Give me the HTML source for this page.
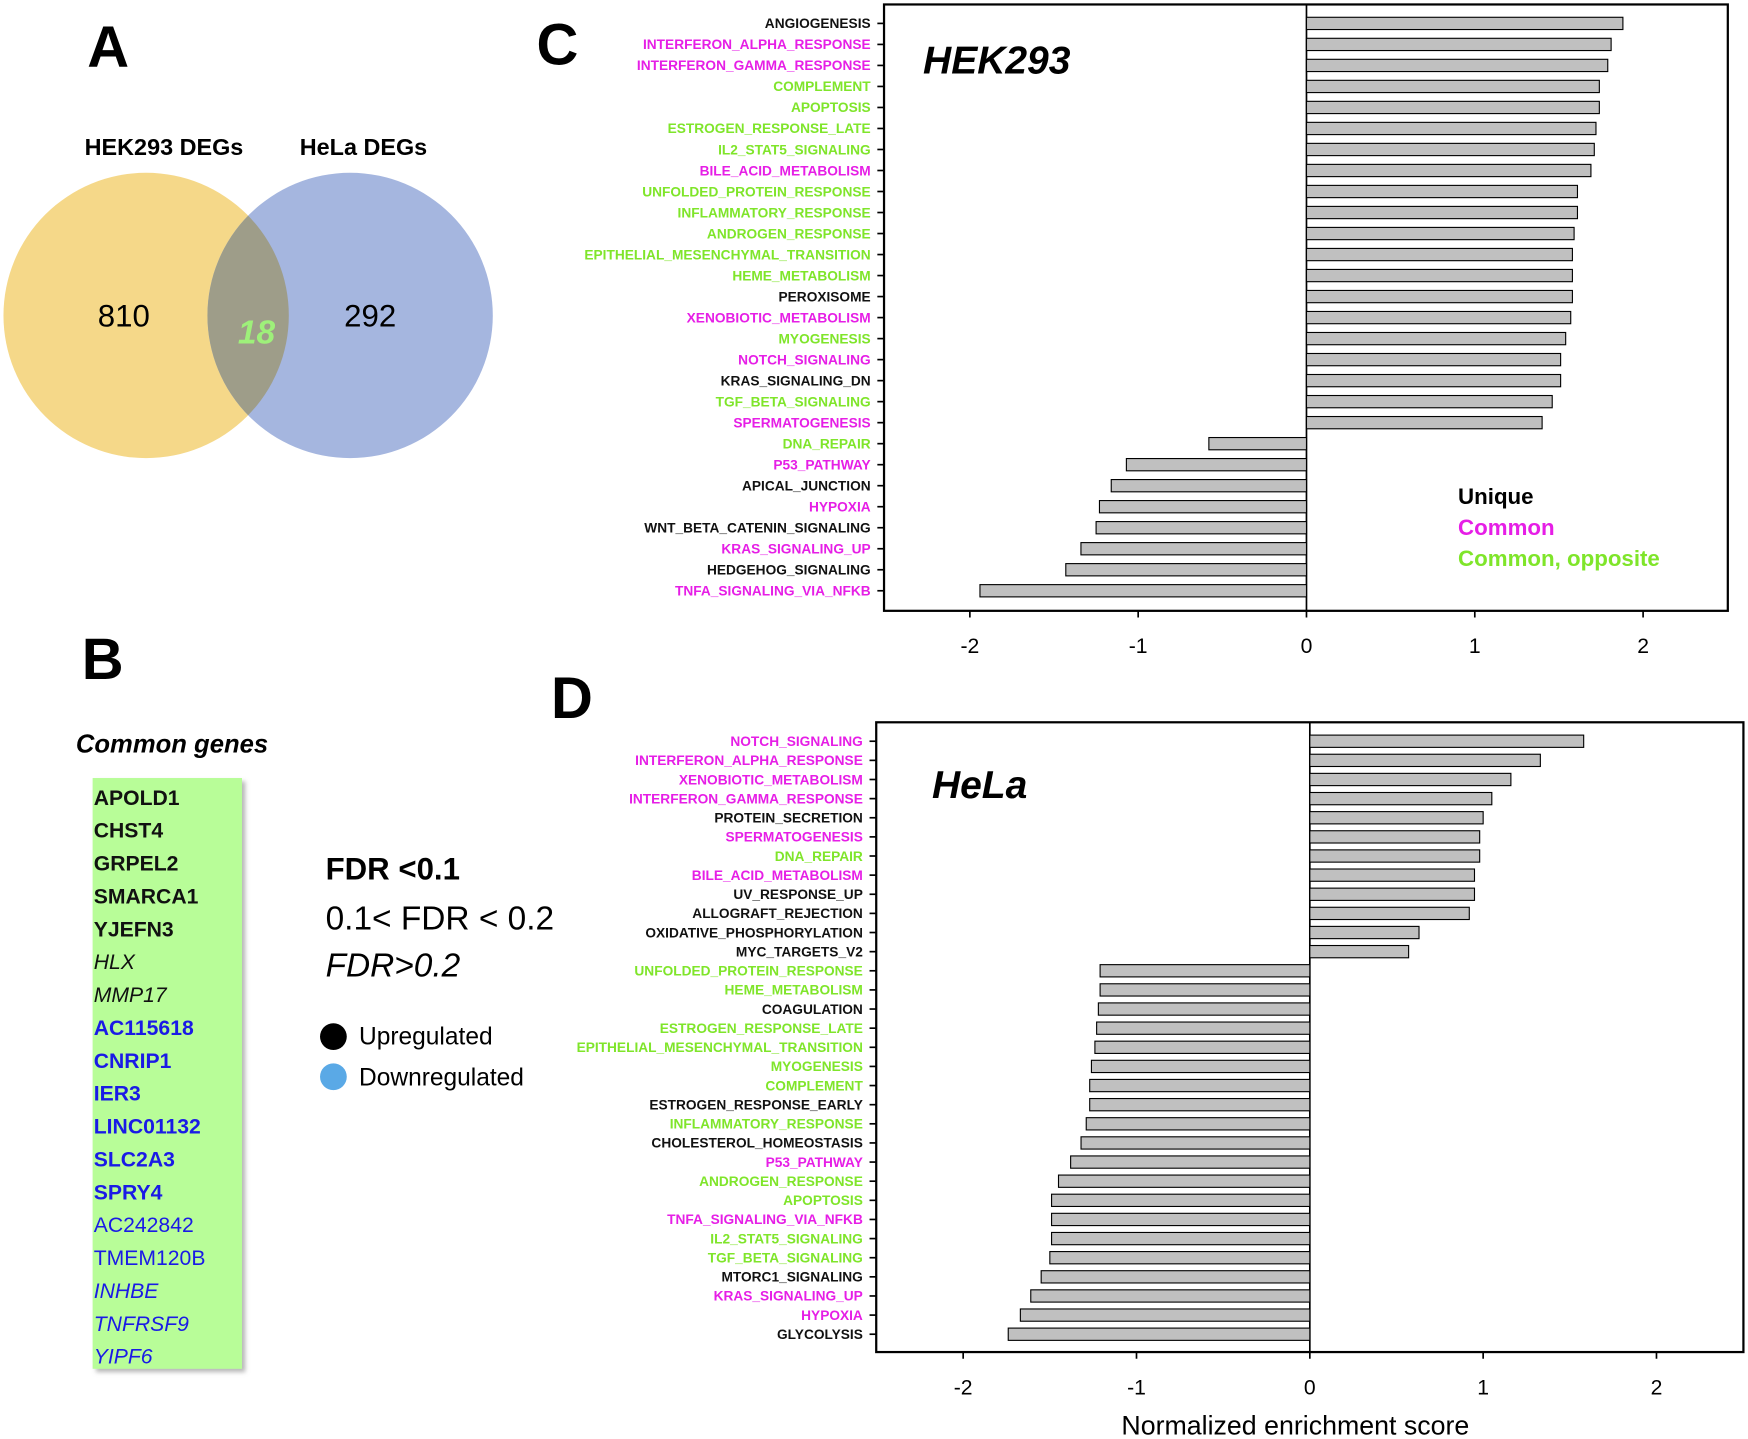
<!DOCTYPE html>
<html><head><meta charset="utf-8"><style>
html,body{margin:0;padding:0;background:#fff}
svg{display:block}
text{font-family:"Liberation Sans",sans-serif}
</style></head><body>
<svg id="fig" width="1748" height="1439" viewBox="0 0 1568 1291" xmlns="http://www.w3.org/2000/svg">
<defs>
<clipPath id="yc"><circle cx="131" cy="283" r="128"/></clipPath>
<filter id="sh" x="-10%" y="-10%" width="130%" height="130%"><feDropShadow dx="3" dy="3" stdDeviation="2" flood-color="#888" flood-opacity="0.6"/></filter>
</defs>
<g>
<text x="97" y="60" font-size="52" font-weight="bold" text-anchor="middle">A</text>
<text x="147" y="139" font-size="21" font-weight="bold" text-anchor="middle">HEK293 DEGs</text>
<text x="326" y="139" font-size="21" font-weight="bold" text-anchor="middle">HeLa DEGs</text>
<circle cx="131" cy="283" r="128" fill="#f5d889"/>
<circle cx="314" cy="283" r="128" fill="#a5b6df"/>
<circle cx="314" cy="283" r="128" fill="#9e9d89" clip-path="url(#yc)"/>
<text x="111" y="293" font-size="28" text-anchor="middle">810</text>
<text x="332" y="293" font-size="28" text-anchor="middle">292</text>
<text x="230" y="308" font-size="30" font-style="italic" font-weight="bold" fill="#9ef07a" text-anchor="middle">18</text>
</g>
<g>
<text x="92" y="609" font-size="52" font-weight="bold" text-anchor="middle">B</text>
<text x="68" y="675" font-size="23" font-style="italic" font-weight="bold">Common genes</text>
<rect x="83" y="698" width="134" height="530" fill="#b8fd98" filter="url(#sh)"/>
<g id="genes"></g>
<text x="292" y="789" font-size="28" font-weight="bold">FDR &lt;0.1</text>
<text x="292" y="834" font-size="30">0.1&lt; FDR &lt; 0.2</text>
<text x="292" y="876" font-size="30" font-style="italic">FDR&gt;0.2</text>
<circle cx="299" cy="930" r="12" fill="#000"/>
<text x="322" y="937" font-size="22">Upregulated</text>
<circle cx="299" cy="966" r="12" fill="#5aa9e6"/>
<text x="322" y="974" font-size="22">Downregulated</text>
</g>
<text x="500" y="58" font-size="52" font-weight="bold" text-anchor="middle">C</text>
<text x="513" y="644" font-size="52" font-weight="bold" text-anchor="middle">D</text>
<g id="chartC"></g>
<g id="chartD"></g>
<g>
<text x="1308" y="452" font-size="20" font-weight="bold">Unique</text>
<text x="1308" y="480" font-size="20" font-weight="bold" fill="#e61ee6">Common</text>
<text x="1308" y="508" font-size="20" font-weight="bold" fill="#7fe52a">Common, opposite</text>
</g>
<text x="1162" y="1287" font-size="24" text-anchor="middle">Normalized enrichment score</text>
</svg>
<script>
const NS='http://www.w3.org/2000/svg';
const geneNames=['APOLD1','CHST4','GRPEL2','SMARCA1','YJEFN3','HLX','MMP17','AC115618','CNRIP1','IER3','LINC01132','SLC2A3','SPRY4','AC242842','TMEM120B','INHBE','TNFRSF9','YIPF6'];
const geneStyle=['bb','bb','bb','bb','bb','ib','ib','Bu','Bu','Bu','Bu','Bu','Bu','ru','ru','iu','iu','iu'];

const cLabels=['ANGIOGENESIS','INTERFERON_ALPHA_RESPONSE','INTERFERON_GAMMA_RESPONSE','COMPLEMENT','APOPTOSIS','ESTROGEN_RESPONSE_LATE','IL2_STAT5_SIGNALING','BILE_ACID_METABOLISM','UNFOLDED_PROTEIN_RESPONSE','INFLAMMATORY_RESPONSE','ANDROGEN_RESPONSE','EPITHELIAL_MESENCHYMAL_TRANSITION','HEME_METABOLISM','PEROXISOME','XENOBIOTIC_METABOLISM','MYOGENESIS','NOTCH_SIGNALING','KRAS_SIGNALING_DN','TGF_BETA_SIGNALING','SPERMATOGENESIS','DNA_REPAIR','P53_PATHWAY','APICAL_JUNCTION','HYPOXIA','WNT_BETA_CATENIN_SIGNALING','KRAS_SIGNALING_UP','HEDGEHOG_SIGNALING','TNFA_SIGNALING_VIA_NFKB'];
const cValues=[1.88,1.81,1.79,1.74,1.74,1.72,1.71,1.69,1.61,1.61,1.59,1.58,1.58,1.58,1.57,1.54,1.51,1.51,1.46,1.40,-0.58,-1.07,-1.16,-1.23,-1.25,-1.34,-1.43,-1.94];
const cTypes=['u','c','c','o','o','o','o','c','o','o','o','o','o','u','c','o','c','u','o','c','o','c','u','c','u','c','u','c'];

const dLabels=['NOTCH_SIGNALING','INTERFERON_ALPHA_RESPONSE','XENOBIOTIC_METABOLISM','INTERFERON_GAMMA_RESPONSE','PROTEIN_SECRETION','SPERMATOGENESIS','DNA_REPAIR','BILE_ACID_METABOLISM','UV_RESPONSE_UP','ALLOGRAFT_REJECTION','OXIDATIVE_PHOSPHORYLATION','MYC_TARGETS_V2','UNFOLDED_PROTEIN_RESPONSE','HEME_METABOLISM','COAGULATION','ESTROGEN_RESPONSE_LATE','EPITHELIAL_MESENCHYMAL_TRANSITION','MYOGENESIS','COMPLEMENT','ESTROGEN_RESPONSE_EARLY','INFLAMMATORY_RESPONSE','CHOLESTEROL_HOMEOSTASIS','P53_PATHWAY','ANDROGEN_RESPONSE','APOPTOSIS','TNFA_SIGNALING_VIA_NFKB','IL2_STAT5_SIGNALING','TGF_BETA_SIGNALING','MTORC1_SIGNALING','KRAS_SIGNALING_UP','HYPOXIA','GLYCOLYSIS'];
const dValues=[1.58,1.33,1.16,1.05,1.00,0.98,0.98,0.95,0.95,0.92,0.63,0.57,-1.21,-1.21,-1.22,-1.23,-1.24,-1.26,-1.27,-1.27,-1.29,-1.32,-1.38,-1.45,-1.49,-1.49,-1.49,-1.50,-1.55,-1.61,-1.67,-1.74];
const dTypes=['c','c','c','c','u','c','o','c','u','u','u','u','o','o','u','o','o','o','o','u','o','u','c','o','o','c','o','o','u','c','c','u'];
const xTicks=[-2,-1,0,1,2];

const typeColor={u:'#111',c:'#e61ee6',o:'#7fe52a'};
function mk(tag,attrs,parent){const e=document.createElementNS(NS,tag);for(const k in attrs)e.setAttribute(k,attrs[k]);parent.appendChild(e);return e;}

// genes
const gG=document.getElementById('genes');
geneNames.forEach((g,i)=>{
  const s=geneStyle[i];
  const t=mk('text',{x:84,y:722+29.5*i,'font-size':19},gG);
  if(s[0]==='b'||s[0]==='B')t.setAttribute('font-weight','bold');
  if(s[0]==='i')t.setAttribute('font-style','italic');
  t.setAttribute('fill',s[1]==='u'?'#1a1ae6':'#111');
  t.textContent=g;
  
  
});

function chart(gid,cfg,labels,values,types,prefix){
  const g=document.getElementById(gid);
  const x=v=>cfg.zero+v*cfg.unit;
  const n=labels.length;
  const y=i=>cfg.first+i*(cfg.last-cfg.first)/(n-1);
  const box=mk('rect',{x:cfg.left,y:cfg.top,width:cfg.right-cfg.left,height:cfg.bottom-cfg.top,fill:'none',stroke:'#000','stroke-width':2},g);
  
  
  const zl=mk('line',{x1:x(0),x2:x(0),y1:cfg.top,y2:cfg.bottom,stroke:'#000','stroke-width':1.5},g);
  
  
  labels.forEach((lab,i)=>{
    const v=values[i];
    const b=mk('rect',{x:Math.min(x(0),x(v)),y:y(i)-5.5,width:Math.abs(x(v)-x(0)),height:11,fill:'#c0c0c0',stroke:'#000','stroke-width':1},g);
    
    
    mk('line',{x1:cfg.left-6,x2:cfg.left,y1:y(i),y2:y(i),stroke:'#000','stroke-width':1.5},g);
    const t=mk('text',{x:cfg.left-12,y:y(i)+4.3,'font-size':12.3,'font-weight':'bold','text-anchor':'end',fill:typeColor[types[i]]},g);
    t.textContent=lab;
    
    
  });
  xTicks.forEach(v=>{
    mk('line',{x1:x(v),x2:x(v),y1:cfg.bottom,y2:cfg.bottom+6,stroke:'#000','stroke-width':1.5},g);
    const t=mk('text',{x:x(v),y:cfg.bottom+38,'font-size':19,'text-anchor':'middle'},g);
    t.textContent=v<0?'-'+Math.abs(v):String(v);
    
    
  });
  const tt=mk('text',{x:cfg.titleX,y:cfg.titleY,'font-size':35,'font-weight':'bold','font-style':'italic'},g);
  tt.textContent=cfg.title;
  
  
}
chart('chartC',{left:793,right:1550,top:4,bottom:548,zero:1172,unit:151,first:21,last:530,title:'HEK293',titleX:828,titleY:66},cLabels,cValues,cTypes,'hek293');
chart('chartD',{left:786,right:1564,top:648,bottom:1213,zero:1175,unit:155.5,first:665,last:1197,title:'HeLa',titleX:836,titleY:716},dLabels,dValues,dTypes,'hela');
</script>
</body></html>
